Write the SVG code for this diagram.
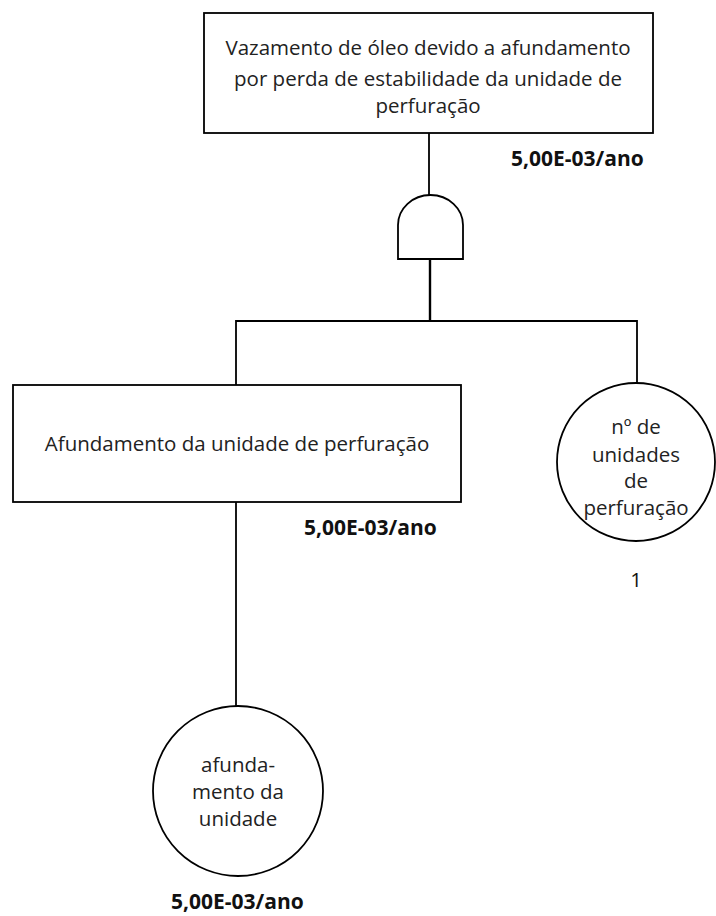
<svg xmlns="http://www.w3.org/2000/svg" width="716" height="916" viewBox="0 0 716 916">
<style>
.box{fill:#fff;stroke:#000;stroke-width:1.8}
.ln{fill:none;stroke:#000;stroke-width:1.8}
.t{font-family:"Open Sans","Noto Sans",sans-serif;font-size:20.5px;fill:#222;text-anchor:middle}
.p{font-family:"Open Sans","Noto Sans",sans-serif;font-size:21px;font-weight:bold;fill:#111}
</style>
<rect width="716" height="916" fill="#fff"/>
<g id="connectors">
<line class="ln" x1="429" y1="133" x2="429" y2="196"/>
<line class="ln" x1="430" y1="259" x2="430" y2="321" style="stroke-width:2.4"/>
<polyline class="ln" points="236,385 236,321 637,321 637,384"/>
<line class="ln" x1="236" y1="502" x2="236" y2="706"/>
</g>
<g id="top">
<rect class="box" x="204" y="13" width="449" height="120"/>
<text class="t" x="428" y="55">Vazamento de óleo devido a afundamento</text>
<text class="t" x="428" y="86">por perda de estabilidade da unidade de</text>
<text class="t" x="428" y="113">perfuração</text>
<text class="p" x="511" y="166">5,00E-03/ano</text>
</g>
<g id="gate">
<path class="ln" d="M398,259 L398,225 A32.5,30 0 0 1 463,225 L463,259 Z" fill="#fff"/>
</g>
<g id="mid">
<rect class="box" x="13" y="385" width="448" height="117"/>
<text class="t" x="237" y="451">Afundamento da unidade de perfuração</text>
<text class="p" x="304" y="535">5,00E-03/ano</text>
</g>
<g id="units">
<circle class="box" cx="636" cy="462" r="79"/>
<text class="t" x="636" y="434">nº de</text>
<text class="t" x="636" y="462">unidades</text>
<text class="t" x="636" y="488">de</text>
<text class="t" x="636" y="515">perfuração</text>
<text class="t" x="636" y="587" style="fill:#111">1</text>
</g>
<g id="sink">
<circle class="box" cx="238" cy="791" r="85"/>
<text class="t" x="238" y="772">afunda-</text>
<text class="t" x="238" y="799">mento da</text>
<text class="t" x="238" y="826">unidade</text>
<text class="p" x="171" y="909">5,00E-03/ano</text>
</g>
</svg>
